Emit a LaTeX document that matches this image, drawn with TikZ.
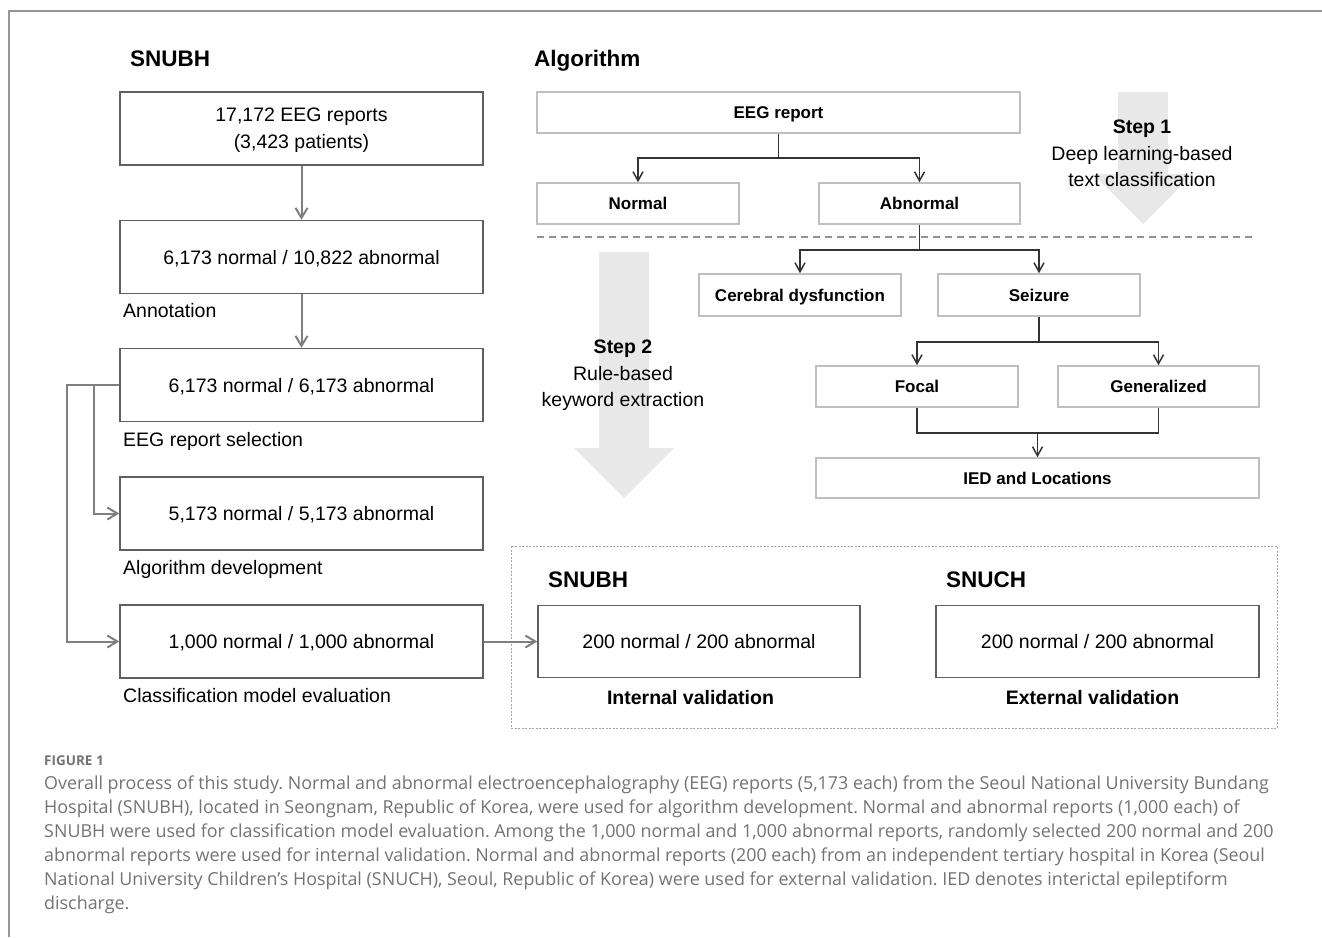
\documentclass[tikz,border=0pt]{standalone}
\usepackage{fontspec}
\setmainfont{Liberation Sans}
\newfontfamily\capfont{Open Sans}
\usepackage{tikz}
\definecolor{eeggray}{RGB}{127,127,127}
\definecolor{eegdark}{RGB}{96,96,96}
\definecolor{eeglight}{RGB}{191,191,191}
\definecolor{eegfill}{RGB}{232,232,232}
\definecolor{eegline}{RGB}{51,51,51}
\definecolor{eegcap}{RGB}{115,115,115}
\definecolor{eegframe}{RGB}{150,150,150}
\usetikzlibrary{arrows.meta,positioning,calc}
\frenchspacing

\begin{document}
\begin{tikzpicture}[x=1pt, y=-1pt,
    flowbox/.style={rectangle, draw=eegdark, line width=1.4pt, minimum width=363pt, minimum height=73pt,
      align=center, text depth=0pt, font=\fontsize{19.5}{27}\selectfont},
    valbox/.style={flowbox, minimum width=322pt, minimum height=72pt},
    algobox/.style={rectangle, draw=eeglight, line width=1.5pt, minimum width=202pt, minimum height=41pt,
      text depth=0pt, font=\bfseries\fontsize{17}{20}\selectfont},
    steplabel/.style={font=\fontsize{19.5}{27}\selectfont, anchor=base west, inner sep=0pt},
    sitetitle/.style={font=\bfseries\fontsize{22.5}{27}\selectfont, anchor=base west, inner sep=0pt},
    steptext/.style={align=center, inner sep=0pt, font=\fontsize{19.5}{26.5}\selectfont},
    grayarr/.style={-{Straight Barb[length=10pt,width=12pt]}, line width=2pt, eeggray},
    treeline/.style={line width=1.5pt, eegline},
    treearr/.style={treeline, -{Straight Barb[length=9pt,width=10pt]}},
    bigarrow/.style={fill=eegfill, draw=none},
    captext/.style={anchor=base west, inner sep=0pt, text=eegcap, font=\capfont\fontsize{17.9}{24}\selectfont}
  ]
    \useasboundingbox (0,0) rectangle (1322,937);
    % Page frame
    \draw[eegframe, line width=1.5pt] (1322,11) -- (9,11) -- (9,937);

    % Big step arrows (background)
    \fill[bigarrow] (1118,92) -- (1168,92) -- (1168,174) -- (1193,174) -- (1143,224)
      -- (1093,174) -- (1118,174) -- cycle;
    \fill[bigarrow] (599,252) -- (649,252) -- (649,448) -- (674,448) -- (624,498)
      -- (574,448) -- (599,448) -- cycle;

    % Title labels
    \node[sitetitle] (snubhtitle) at (130,66) {SNUBH};
    \node[sitetitle] (algotitle) at (534,66) {Algorithm};

    % Left path: SNUBH data
    \node[flowbox] (reports) at (301.5,128.5) {17,172 EEG reports\\(3,423 patients)};
    \node[flowbox] (annot) at (301.5,257) {6,173 normal / 10,822 abnormal};
    \node[flowbox] (select) at (301.5,385) {6,173 normal / 6,173 abnormal};
    \node[flowbox] (develop) at (301.5,513.5) {5,173 normal / 5,173 abnormal};
    \node[flowbox] (evalset) at (301.5,641.5) {1,000 normal / 1,000 abnormal};

    \node[steplabel] (annotlbl) at (123,317) {Annotation};
    \node[steplabel] (selectlbl) at (123,446) {EEG report selection};
    \node[steplabel] (developlbl) at (123,574) {Algorithm development};
    \node[steplabel] (evallbl) at (123,702) {Classification model evaluation};

    % Arrows left
    \draw[grayarr] (reports) -- (annot);
    \draw[grayarr] (annot) -- (select);
    \coordinate (bendout) at (67,385);
    \coordinate (bendin) at (94,385);
    \draw[grayarr] (select.west) -- (bendout) |- (evalset.west);
    \draw[grayarr] (bendin) |- (develop.west);

    % Algorithm tree
    \node[algobox, minimum width=483pt] (eeg) at (778.5,112.5) {EEG report};
    \node[algobox] (normal) at (638,203.5) {Normal};
    \node[algobox, minimum width=201pt] (abnormal) at (919.5,203.5) {Abnormal};
    \draw[eeggray!85, line width=1.5pt, dash pattern=on 7pt off 5pt] (537,237) -- (1255,237);
    \node[algobox, minimum height=42pt] (cerebral) at (800,295) {Cerebral dysfunction};
    \node[algobox, minimum height=42pt] (seizure) at (1039,295) {Seizure};
    \node[algobox] (focal) at (917,386.5) {Focal};
    \node[algobox, minimum width=201pt] (general) at (1158.5,386.5) {Generalized};
    \node[algobox, minimum width=443pt, minimum height=40pt] (ied) at (1037.5,478) {IED and Locations};

    \coordinate (j1) at (778.5,158);
    \draw[treeline] (eeg.south) -- (j1);
    \draw[treearr] (j1) -| (normal.north);
    \draw[treearr] (j1) -| (abnormal.north);
    \coordinate (j2) at (919.5,250);
    \draw[treeline] (abnormal.south) -- (j2);
    \draw[treearr] (j2) -| (cerebral.north);
    \draw[treearr] (j2) -| (seizure.north);
    \coordinate (j3) at (1039,342);
    \draw[treeline] (seizure.south) -- (j3);
    \draw[treearr] (j3) -| (focal.north);
    \draw[treearr] (j3) -| (general.north);
    \coordinate (j4) at (1037.5,433);
    \draw[treeline] (focal.south) |- (j4);
    \draw[treeline] (general.south) |- (j4);
    \draw[treearr] (j4) -- (ied.north);

    % Step texts
    \node[steptext] (step1) at (1142,153.5) {{\bfseries Step 1}\\Deep learning-based\\text classification};
    \node[steptext] (step2) at (623,375.5) {{\bfseries Step 2}\\Rule-based\\keyword extraction};

    % Validation sets
    \draw[eeggray!70, line width=0.8pt, dash pattern=on 2pt off 1.5pt] (511,546) rectangle (1277,728);
    \node[sitetitle] (valsnubh) at (548,587) {SNUBH};
    \node[sitetitle] (valsnuch) at (946,587) {SNUCH};
    \node[valbox] (internal) at (699,641.5) {200 normal / 200 abnormal};
    \node[valbox, minimum width=323pt] (external) at (1097.5,641.5) {200 normal / 200 abnormal};
    \node[font=\bfseries\fontsize{19.5}{24}\selectfont, anchor=base, inner sep=0pt] (intlbl) at (690.5,704) {Internal validation};
    \node[font=\bfseries\fontsize{19.5}{24}\selectfont, anchor=base, inner sep=0pt] (extlbl) at (1092.5,704) {External validation};
    \draw[grayarr] (evalset) -- (internal);

    % Caption
    \node[captext, font=\capfont\bfseries\fontsize{13.5}{15}\selectfont] (fignum) at (44,765.5) {FIGURE 1};
    \foreach \capline [count=\i] in {
        {Overall process of this study. Normal and abnormal electroencephalography (EEG) reports (5,173 each) from the Seoul National University Bundang},
        {Hospital (SNUBH), located in Seongnam, Republic of Korea, were used for algorithm development. Normal and abnormal reports (1,000 each) of},
        {SNUBH were used for classification model evaluation. Among the 1,000 normal and 1,000 abnormal reports, randomly selected 200 normal and 200},
        {abnormal reports were used for internal validation. Normal and abnormal reports (200 each) from an independent tertiary hospital in Korea (Seoul},
        {National University Children’s Hospital (SNUCH), Seoul, Republic of Korea) were used for external validation. IED denotes interictal epileptiform},
        {discharge.}}
      \node[captext] (cap\i) at (44,{765.5+24*\i}) {\capline};
  \end{tikzpicture}
\end{document}
